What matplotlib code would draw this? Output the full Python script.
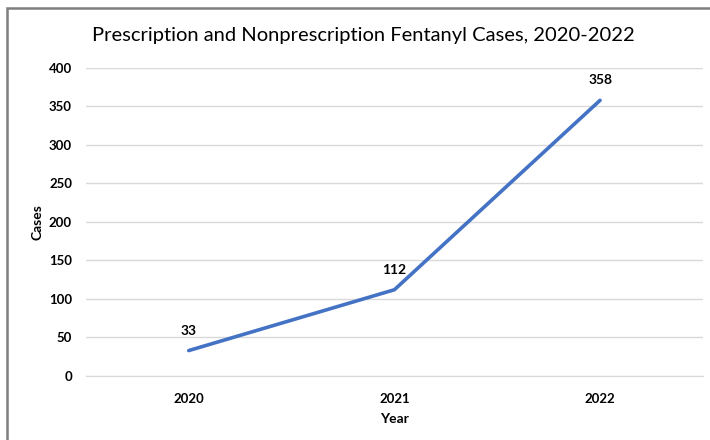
import matplotlib
matplotlib.use('Agg')
import matplotlib.pyplot as plt
from matplotlib.patches import Rectangle

years = ['2020', '2021', '2022']
cases = [33, 112, 358]
y_ticks = [0, 50, 100, 150, 200, 250, 300, 350, 400]

plt.rcParams['font.family'] = ['Lato', 'DejaVu Sans']

fig = plt.figure(figsize=(7.1, 4.4), dpi=100)
ax = fig.add_axes([0.121, 0.1455, 0.869, 0.70])

# outer chart border (Excel-style frame)
fig.patches.append(Rectangle((7 / 710, -0.1), 1.2, 1 - 8 / 440 + 0.1,
                             transform=fig.transFigure, fill=False,
                             edgecolor='#7f7f7f', linewidth=1.8))

x = range(len(years))
ax.plot(x, cases, color='#4472C4', linewidth=2.6, solid_capstyle='round')
for xi, v in zip(x, cases):
    ax.annotate(str(v), (xi, v), xytext=(0, 10), textcoords='offset points',
                ha='center', va='bottom', fontsize=10, fontweight='bold')

ax.set_xlim(-0.5, 2.5)
ax.set_ylim(0, 400)
ax.set_xticks(list(x))
ax.set_xticklabels(years, fontsize=9.5, fontweight='bold')
ax.set_yticks(y_ticks)
ax.set_yticklabels([str(t) for t in y_ticks], fontsize=9.5, fontweight='bold')
ax.tick_params(length=0, pad=10)
ax.tick_params(axis='x', pad=12)
ax.grid(axis='y', color='#d9d9d9', linewidth=1)
ax.set_axisbelow(True)
for s in ['top', 'right', 'left']:
    ax.spines[s].set_visible(False)
ax.spines['bottom'].set_color('#d9d9d9')

ax.set_xlabel('Year', fontsize=10, fontweight='bold', labelpad=6)
ax.set_ylabel('Cases', fontsize=10, fontweight='bold', labelpad=4)

fig.text(0.512, 0.92, 'Prescription and Nonprescription Fentanyl Cases, 2020-2022',
         ha='center', va='center', fontsize=14.5)

fig.savefig('out.png', dpi=100)
